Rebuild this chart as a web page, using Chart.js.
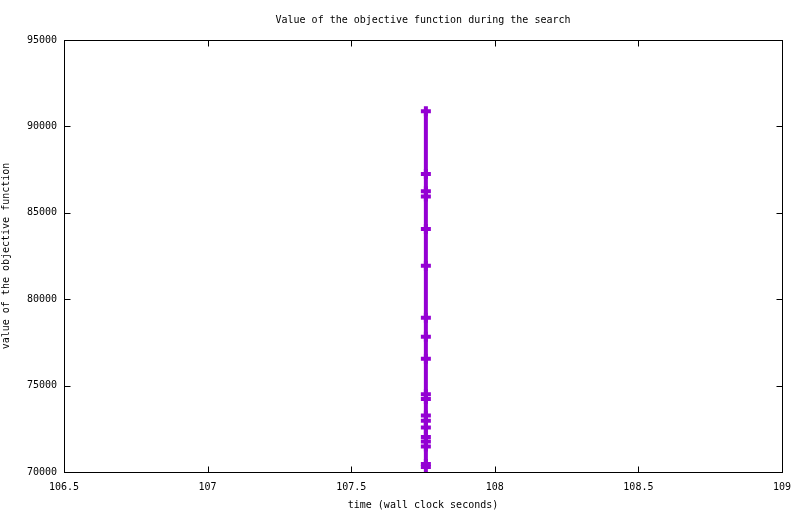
<!DOCTYPE html>
<html>
<head>
<meta charset="utf-8">
<script src="https://cdn.jsdelivr.net/npm/chart.js@4/dist/chart.umd.min.js"></script>
<style>
  html, body { margin: 0; padding: 0; background: #fff; }
  #wrap { width: 800px; height: 514px; }
</style>
</head>
<body>
<div id="wrap"><canvas id="objChart"></canvas></div>
<script>
// search times (all improvements found at the same wall clock time)
const times = [107.76, 107.76, 107.76, 107.76, 107.76, 107.76, 107.76, 107.76, 107.76, 107.76,
               107.76, 107.76, 107.76, 107.76, 107.76, 107.76, 107.76, 107.76, 107.76];
const objectiveValues = [90880, 87240, 86250, 85950, 84060, 81930, 78930, 77830, 76560, 74500,
                         74230, 73270, 72960, 72575, 72020, 71770, 71480, 70460, 70290];
const xTicks = [106.5, 107, 107.5, 108, 108.5, 109];
const yTicks = [70000, 75000, 80000, 85000, 90000, 95000];

const monoFont = { family: "'DejaVu Sans Mono', monospace", size: 10, weight: 'normal' };

// gnuplot-like frame with inward ticks on all four sides
const framePlugin = {
    id: 'frame',
    afterLayout(chart) {
        // centre the title over the plot area, as gnuplot does
        const tb = chart.titleBlock;
        if (tb) {
            tb.left = chart.chartArea.left;
            tb.right = chart.chartArea.right;
            tb.width = tb.right - tb.left;
        }
    },
    afterDraw(chart) {
        const ctx = chart.ctx;
        const a = chart.chartArea;
        const xs = chart.scales.x, ys = chart.scales.y;
        const L = Math.round(a.left) + 0.5, R = Math.round(a.right) + 0.5;
        const T = Math.round(a.top) + 0.5, B = Math.round(a.bottom) + 0.5;
        ctx.save();
        ctx.strokeStyle = '#000';
        ctx.lineWidth = 1;
        ctx.strokeRect(L, T, R - L, B - T);
        ctx.beginPath();
        xTicks.forEach(v => {
            const px = Math.round(xs.getPixelForValue(v)) + 0.5;
            ctx.moveTo(px, B); ctx.lineTo(px, B - 6);
            ctx.moveTo(px, T); ctx.lineTo(px, T + 6);
        });
        yTicks.forEach(v => {
            const py = Math.round(ys.getPixelForValue(v)) + 0.5;
            ctx.moveTo(L, py); ctx.lineTo(L + 6, py);
            ctx.moveTo(R, py); ctx.lineTo(R - 6, py);
        });
        ctx.stroke();
        ctx.restore();
    }
};

const points = times.map((t, i) => ({ x: t, y: objectiveValues[i] }));

new Chart(document.getElementById('objChart'), {
    type: 'line',
    data: {
        datasets: [{
            data: points,
            borderColor: '#9400d3',
            backgroundColor: '#9400d3',
            borderWidth: 4,
            pointStyle: 'cross',
            pointRadius: 5,
            pointBorderWidth: 4,
            pointBorderColor: '#9400d3',
            fill: false,
            tension: 0
        }]
    },
    options: {
        responsive: true,
        maintainAspectRatio: false,
        animation: false,
        layout: { padding: { left: 0, right: 18, top: 0, bottom: 0 } },
        plugins: {
            legend: { display: false },
            tooltip: { enabled: false },
            title: {
                display: true,
                text: 'Value of the objective function during the search',
                color: '#000',
                font: monoFont,
                padding: { top: 14, bottom: 14 }
            }
        },
        scales: {
            x: {
                type: 'linear',
                min: 106.5,
                max: 109,
                afterBuildTicks: s => { s.ticks = xTicks.map(v => ({ value: v })); },
                afterFit: s => { s.height = 42; s.paddingRight = 0; s.paddingLeft = 0; },
                grid: { display: false, drawTicks: false },
                border: { display: false },
                ticks: { color: '#000', font: monoFont, padding: 9, maxRotation: 0, callback: v => String(v) },
                title: {
                    display: true,
                    text: 'time (wall clock seconds)',
                    color: '#000',
                    font: monoFont,
                    padding: { top: 0, bottom: 3 }
                }
            },
            y: {
                type: 'linear',
                min: 70000,
                max: 95000,
                afterBuildTicks: s => { s.ticks = yTicks.map(v => ({ value: v })); },
                afterFit: s => { s.width = 64; },
                grid: { display: false, drawTicks: false },
                border: { display: false },
                ticks: { color: '#000', font: monoFont, padding: 7, callback: v => String(v) },
                title: {
                    display: true,
                    text: 'value of the objective function',
                    color: '#000',
                    font: monoFont,
                    padding: { top: 0, bottom: 0 }
                }
            }
        }
    },
    plugins: [framePlugin]
});
</script>
</body>
</html>
